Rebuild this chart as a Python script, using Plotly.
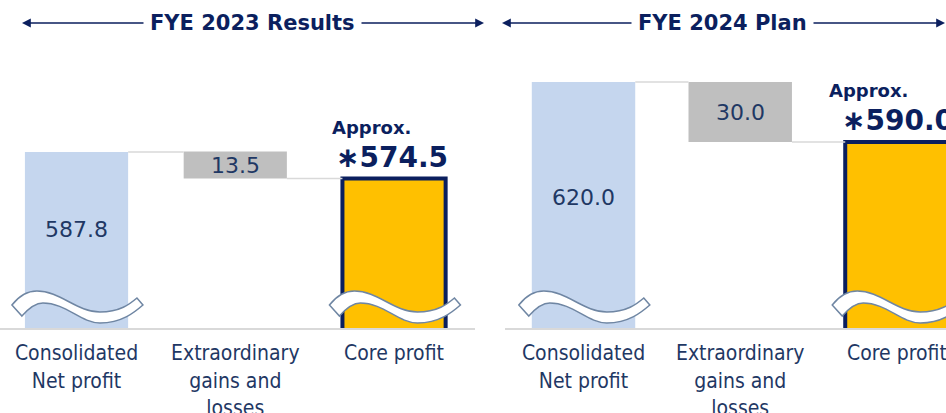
import plotly.graph_objects as go

# ---------------- data ----------------
panel_titles = ["FYE 2023 Results", "FYE 2024 Plan"]
categories = ["Consolidated<br>Net profit", "Extraordinary<br>gains and<br>losses", "Core profit"]
net_profit = [587.8, 620.0]
extraordinary = [13.5, 30.0]
core_profit = [574.5, 590.0]
core_prefix = "Approx."

# ---------------- style ----------------
W, H = 946, 413
NAVY = "#1F3864"
DARK = "#0B1F5E"
LIGHT_BLUE = "#C5D6EE"
GRAY = "#BFBFBF"
YELLOW = "#FFC000"
LINE_GRAY = "#D9D9D9"
WAVE = "#6F86A3"
NUM_FONT = "DejaVu Sans"
LAB_FONT = "DejaVu Sans Condensed"

# per-panel geometry (domains in paper units, ranges in axis units)
panels = [
    dict(xdom=[0, 475 / W], xr=[-0.482, 2.51], ylo=499.8, width=0.65,
         lshift=-12, nshift=-8, fracl=0.44),
    dict(xdom=[505 / W, 1.0], xr=[-0.501, 2.313], ylo=497.0, width=0.66,
         lshift=-18, nshift=-5, fracl=0.47),
]
YDOM = [85 / H, 1.0]
PX_PER_UNIT_Y = 2.0

# break-mark outline template (pixels relative to bar left edge / baseline)
WAVE_UPPER = [(-13, -23), (-6, -32), (2, -37), (12, -37), (35, -37), (52, -16),
              (75, -16), (95, -16), (105, -24), (112, -30)]
WAVE_LOWER = [(-3, -12), (4, -20), (10, -25), (18, -25), (41, -25), (56, -5),
              (75, -5), (97, -5), (110, -16), (118, -23)]

fig = go.Figure()
shapes = []
annotations = []

for p, cfg in enumerate(panels):
    xa = "x" if p == 0 else "x2"
    ya = "y" if p == 0 else "y2"
    w = cfg["width"]
    ylo = cfg["ylo"]
    ytop = ylo + (H * (YDOM[1] - YDOM[0])) / PX_PER_UNIT_Y
    cfg["ytop"] = ytop
    px_per_x = (cfg["xdom"][1] - cfg["xdom"][0]) * W / (cfg["xr"][1] - cfg["xr"][0])

    nv, ev, cv = net_profit[p], extraordinary[p], core_profit[p]

    fig.add_trace(go.Bar(
        x=[0, 1, 2], y=[nv, ev, cv], base=[0, cv, 0], width=w,
        marker=dict(color=[LIGHT_BLUE, GRAY, YELLOW],
                    line=dict(color=[LIGHT_BLUE, GRAY, DARK], width=[0, 0, 4])),
        xaxis=xa, yaxis=ya, showlegend=False, hoverinfo="skip",
    ))
    # connectors
    fig.add_trace(go.Scatter(
        x=[0 + w / 2, 1 - w / 2, None, 1 + w / 2, 2 - w / 2],
        y=[nv, nv, None, cv, cv], mode="lines",
        line=dict(color=LINE_GRAY, width=1.5),
        xaxis=xa, yaxis=ya, showlegend=False, hoverinfo="skip",
    ))

    # break marks (wave) on the tall bars
    def conv(pt, i):
        dx, dy = pt
        x = i - w / 2 + dx / px_per_x
        y = ylo - dy / PX_PER_UNIT_Y
        return f"{x:.4f},{y:.3f}"
    for i in (0, 2):
        u = [conv(pt, i) for pt in WAVE_UPPER]
        l = [conv(pt, i) for pt in WAVE_LOWER][::-1]
        path = (f"M {u[0]} C {u[1]} {u[2]} {u[3]} C {u[4]} {u[5]} {u[6]} "
                f"C {u[7]} {u[8]} {u[9]} L {l[0]} "
                f"C {l[1]} {l[2]} {l[3]} C {l[4]} {l[5]} {l[6]} "
                f"C {l[7]} {l[8]} {l[9]} Z")
        shapes.append(dict(type="path", path=path, xref=xa, yref=ya,
                           fillcolor="white", line=dict(color=WAVE, width=1.5),
                           layer="above"))

    # value labels
    annotations.append(dict(x=0, y=nv - cfg["fracl"] * (nv - ylo), xref=xa, yref=ya,
                            text=f"{nv:.1f}", showarrow=False,
                            font=dict(family=NUM_FONT, size=22, color=NAVY)))
    annotations.append(dict(x=1, y=cv + ev / 2, xref=xa, yref=ya,
                            text=f"{ev:.1f}", showarrow=False,
                            font=dict(family=NUM_FONT, size=22, color=NAVY)))
    annotations.append(dict(x=2 - w / 2, y=cv, xref=xa, yref=ya,
                            text=f"∗{cv:.1f}", showarrow=False,
                            xanchor="left", yanchor="bottom", xshift=cfg["nshift"], yshift=3,
                            font=dict(family=NUM_FONT, size=28, color=DARK, weight="bold")))
    annotations.append(dict(x=2 - w / 2, y=cv, xref=xa, yref=ya,
                            text=core_prefix, showarrow=False,
                            xanchor="left", yanchor="bottom", xshift=cfg["lshift"], yshift=39,
                            font=dict(family=NUM_FONT, size=18, color=DARK, weight="bold")))

# header titles with arrows
headers = [
    dict(cx=253, l0=22, l1=145, r0=360, r1=484),
    dict(cx=722, l0=502, l1=633, r0=812, r1=945),
]
HY = 23
for p, h in enumerate(headers):
    annotations.append(dict(x=h["cx"] / W, y=(H - HY) / H, xref="paper", yref="paper",
                            xanchor="center", yanchor="middle",
                            text=panel_titles[p], showarrow=False,
                            font=dict(family=NUM_FONT, size=21, color=DARK, weight="bold")))
    annotations.append(dict(x=h["l0"] / W, y=(H - HY) / H, xref="paper", yref="paper",
                            text="", showarrow=True, ax=h["l1"] - h["l0"], ay=0,
                            arrowhead=2, arrowsize=1.1, arrowwidth=1.6, arrowcolor=DARK))
    annotations.append(dict(x=h["r1"] / W, y=(H - HY) / H, xref="paper", yref="paper",
                            text="", showarrow=True, ax=h["r0"] - h["r1"], ay=0,
                            arrowhead=2, arrowsize=1.1, arrowwidth=1.6, arrowcolor=DARK))

axis_common = dict(tickvals=[0, 1, 2], ticktext=categories, showgrid=False, zeroline=False,
                   showline=True, linecolor=LINE_GRAY, linewidth=2, ticks="",
                   ticklabelstandoff=5, ticklabeloverflow="allow",
                   tickfont=dict(family=LAB_FONT, size=21, color=NAVY), automargin=False,
                   fixedrange=True)
yaxis_common = dict(visible=False, showgrid=False, zeroline=False, domain=YDOM,
                    automargin=False, fixedrange=True)

fig.update_layout(
    width=W, height=H, margin=dict(l=0, r=0, t=0, b=0),
    paper_bgcolor="white", plot_bgcolor="white",
    template="none", showlegend=False, barmode="overlay",
    xaxis=dict(domain=panels[0]["xdom"], range=panels[0]["xr"], anchor="y", **axis_common),
    yaxis=dict(range=[panels[0]["ylo"], panels[0]["ytop"]], anchor="x", **yaxis_common),
    xaxis2=dict(domain=panels[1]["xdom"], range=panels[1]["xr"], anchor="y2", **axis_common),
    yaxis2=dict(range=[panels[1]["ylo"], panels[1]["ytop"]], anchor="x2", **yaxis_common),
    shapes=shapes, annotations=annotations,
)

fig.write_html("out.html", config={"displayModeBar": False},
               post_script="document.body.style.margin='0';")
